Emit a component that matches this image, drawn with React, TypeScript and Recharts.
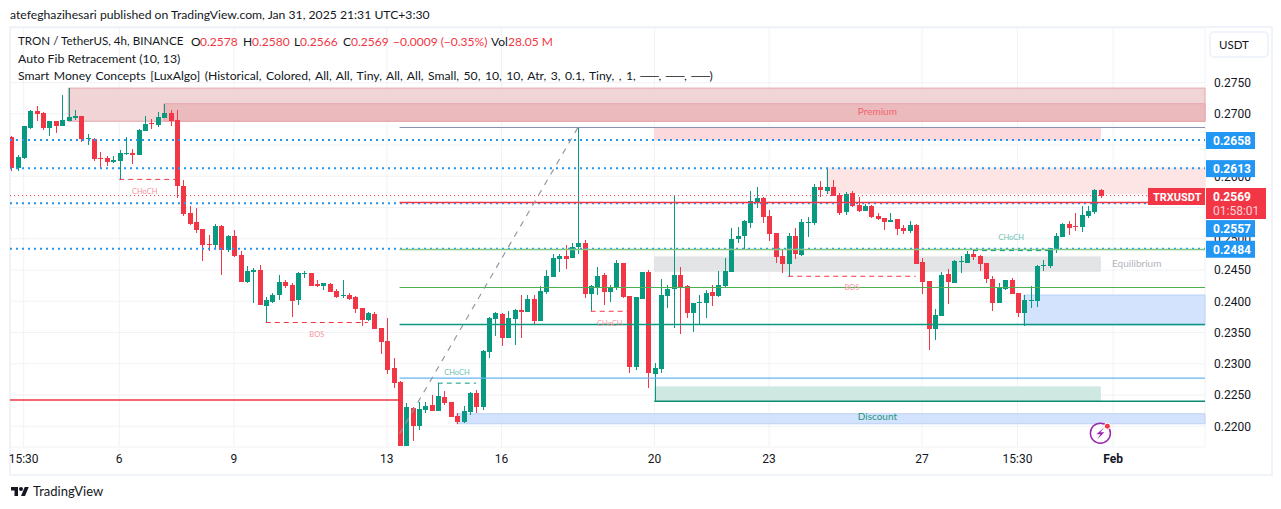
import React from 'react';
import { ComposedChart, Bar, XAxis, YAxis, CartesianGrid, ReferenceLine, ReferenceArea, ReferenceDot } from 'recharts';

const opens = [0.2663,0.2613,0.2629,0.2677,0.2704,0.2701,0.2677,0.2688,0.2680,0.2688,0.2693,0.2696,0.2660,0.2660,0.2629,0.2629,0.2623,0.2624,0.2636,0.2637,0.2634,0.2672,0.2685,0.2682,0.2693,0.2701,0.2690,0.2584,0.2541,0.2527,0.2516,0.2492,0.2490,0.2520,0.2482,0.2504,0.2474,0.2431,0.2447,0.2450,0.2392,0.2399,0.2410,0.2431,0.2426,0.2402,0.2444,0.2445,0.2428,0.2424,0.2428,0.2416,0.2408,0.2410,0.2407,0.2389,0.2370,0.2380,0.2357,0.2336,0.2293,0.2271,0.2168,0.2229,0.2200,0.2226,0.2234,0.2224,0.2247,0.2239,0.2216,0.2207,0.2223,0.2253,0.2231,0.2319,0.2372,0.2380,0.2341,0.2372,0.2386,0.2383,0.2404,0.2368,0.2415,0.2439,0.2468,0.2472,0.2469,0.2487,0.2493,0.2412,0.2421,0.2442,0.2415,0.2421,0.2461,0.2408,0.2295,0.2404,0.2447,0.2284,0.2292,0.2408,0.2420,0.2442,0.2424,0.2381,0.2397,0.2397,0.2415,0.2408,0.2424,0.2447,0.2500,0.2504,0.2525,0.2557,0.2565,0.2536,0.2509,0.2472,0.2460,0.2504,0.2474,0.2525,0.2525,0.2583,0.2576,0.2583,0.2570,0.2543,0.2573,0.2554,0.2544,0.2552,0.2536,0.2533,0.2527,0.2532,0.2517,0.2512,0.2522,0.2463,0.2432,0.2356,0.2376,0.2444,0.2429,0.2463,0.2461,0.2476,0.2472,0.2461,0.2436,0.2397,0.2420,0.2434,0.2413,0.2381,0.2400,0.2400,0.2456,0.2456,0.2484,0.2503,0.2524,0.2520,0.2519,0.2536,0.2543,0.2578];
const highs = [0.2664,0.2634,0.2680,0.2706,0.2712,0.2703,0.2688,0.2688,0.2730,0.2741,0.2706,0.2696,0.2668,0.2661,0.2639,0.2632,0.2632,0.2642,0.2663,0.2644,0.2676,0.2696,0.2692,0.2703,0.2716,0.2706,0.2706,0.2594,0.2552,0.2549,0.2516,0.2506,0.2524,0.2522,0.2506,0.2514,0.2480,0.2456,0.2453,0.2458,0.2407,0.2413,0.2442,0.2434,0.2429,0.2447,0.2448,0.2445,0.2434,0.2429,0.2429,0.2420,0.2434,0.2413,0.2408,0.2389,0.2383,0.2383,0.2357,0.2373,0.2309,0.2272,0.2237,0.2231,0.2239,0.2239,0.2250,0.2269,0.2256,0.2239,0.2221,0.2232,0.2255,0.2258,0.2322,0.2375,0.2383,0.2381,0.2384,0.2388,0.2410,0.2410,0.2410,0.2424,0.2450,0.2476,0.2476,0.2490,0.2493,0.2678,0.2498,0.2426,0.2455,0.2445,0.2426,0.2466,0.2461,0.2408,0.2407,0.2447,0.2450,0.2301,0.2436,0.2426,0.2568,0.2455,0.2426,0.2397,0.2410,0.2418,0.2426,0.2448,0.2469,0.2517,0.2519,0.2530,0.2576,0.2583,0.2567,0.2546,0.2509,0.2484,0.2509,0.2517,0.2532,0.2535,0.2588,0.2592,0.2613,0.2594,0.2573,0.2575,0.2576,0.2567,0.2556,0.2554,0.2541,0.2533,0.2541,0.2532,0.2522,0.2528,0.2524,0.2469,0.2432,0.2388,0.2447,0.2452,0.2466,0.2472,0.2480,0.2484,0.2474,0.2461,0.2440,0.2429,0.2434,0.2437,0.2413,0.2410,0.2424,0.2458,0.2466,0.2485,0.2509,0.2525,0.2528,0.2541,0.2552,0.2552,0.2580,0.2580];
const lows = [0.2608,0.2608,0.2628,0.2676,0.2688,0.2674,0.2664,0.2669,0.2680,0.2688,0.2690,0.2655,0.2650,0.2624,0.2612,0.2616,0.2621,0.2594,0.2634,0.2620,0.2634,0.2672,0.2676,0.2679,0.2693,0.2680,0.2565,0.2536,0.2522,0.2509,0.2464,0.2480,0.2485,0.2442,0.2479,0.2471,0.2431,0.2429,0.2397,0.2394,0.2365,0.2397,0.2402,0.2421,0.2375,0.2394,0.2437,0.2424,0.2423,0.2418,0.2415,0.2405,0.2405,0.2402,0.2381,0.2360,0.2368,0.2356,0.2316,0.2284,0.2261,0.2168,0.2168,0.2176,0.2194,0.2221,0.2224,0.2224,0.2234,0.2215,0.2204,0.2205,0.2218,0.2221,0.2226,0.2309,0.2344,0.2328,0.2341,0.2330,0.2341,0.2383,0.2362,0.2368,0.2412,0.2439,0.2447,0.2452,0.2469,0.2477,0.2405,0.2384,0.2410,0.2394,0.2399,0.2418,0.2405,0.2284,0.2290,0.2404,0.2261,0.2239,0.2285,0.2389,0.2356,0.2348,0.2373,0.2351,0.2362,0.2373,0.2392,0.2407,0.2423,0.2447,0.2493,0.2482,0.2517,0.2549,0.2525,0.2496,0.2461,0.2445,0.2439,0.2468,0.2472,0.2503,0.2522,0.2567,0.2572,0.2568,0.2538,0.2538,0.2551,0.2543,0.2544,0.2533,0.2530,0.2514,0.2527,0.2506,0.2508,0.2509,0.2460,0.2412,0.2322,0.2338,0.2376,0.2396,0.2429,0.2445,0.2461,0.2466,0.2448,0.2429,0.2384,0.2397,0.2418,0.2412,0.2375,0.2360,0.2389,0.2391,0.2448,0.2453,0.2477,0.2503,0.2506,0.2512,0.2511,0.2533,0.2540,0.2566];
const closes = [0.2613,0.2631,0.2680,0.2704,0.2700,0.2677,0.2688,0.2680,0.2690,0.2695,0.2696,0.2660,0.2661,0.2628,0.2628,0.2623,0.2626,0.2637,0.2637,0.2634,0.2674,0.2684,0.2684,0.2695,0.2701,0.2688,0.2584,0.2540,0.2524,0.2514,0.2490,0.2490,0.2520,0.2482,0.2504,0.2472,0.2431,0.2448,0.2450,0.2394,0.2402,0.2410,0.2431,0.2424,0.2400,0.2445,0.2445,0.2424,0.2424,0.2429,0.2415,0.2407,0.2410,0.2404,0.2388,0.2370,0.2381,0.2356,0.2335,0.2290,0.2269,0.2168,0.2231,0.2200,0.2228,0.2232,0.2224,0.2248,0.2237,0.2215,0.2207,0.2224,0.2253,0.2231,0.2320,0.2373,0.2381,0.2341,0.2373,0.2386,0.2383,0.2404,0.2368,0.2416,0.2440,0.2469,0.2472,0.2468,0.2487,0.2493,0.2412,0.2424,0.2440,0.2415,0.2423,0.2461,0.2407,0.2295,0.2407,0.2447,0.2285,0.2293,0.2410,0.2420,0.2442,0.2423,0.2381,0.2397,0.2399,0.2413,0.2408,0.2426,0.2448,0.2500,0.2504,0.2528,0.2560,0.2565,0.2535,0.2508,0.2471,0.2460,0.2504,0.2476,0.2527,0.2527,0.2583,0.2578,0.2583,0.2568,0.2541,0.2572,0.2552,0.2544,0.2552,0.2535,0.2532,0.2527,0.2530,0.2516,0.2512,0.2522,0.2460,0.2431,0.2356,0.2378,0.2442,0.2431,0.2464,0.2464,0.2476,0.2471,0.2460,0.2436,0.2397,0.2423,0.2434,0.2412,0.2381,0.2402,0.2402,0.2456,0.2458,0.2485,0.2504,0.2524,0.2517,0.2519,0.2538,0.2544,0.2578,0.2569];

const priceTicks = [0.22,0.225,0.23,0.235,0.24,0.245,0.25,0.255,0.26,0.265,0.27,0.275];
const timeTicks = [3,18,36,60,78,102,120,144,159,174];
const timeLabels = ['15:30','6','9','13','16','20','23','27','15:30','Feb'];

const candles = opens.map((open, k) => ({ i: k + 1, open, high: highs[k], low: lows[k], close: closes[k] }));

const UP = '#089981';
const DOWN = '#f23645';
const BLUE = '#2196f3';
const TEXT = '#131722';
const FONT = 'Lato, "Noto Sans", sans-serif';
const AXIS_FONT = 'Roboto, sans-serif';
const xMin = 0.854;
const xMax = 188.42;
const yMin = 0.21668;
const yMax = 0.28372;

const Candle = (props: any) => {
  const { x, y, width, height, payload } = props;
  const k = height / (payload.high - payload.low);
  const at = (p: number) => y + (payload.high - p) * k;
  const cx = Math.round(x + width / 2);
  const color = payload.close >= payload.open ? UP : DOWN;
  const top = Math.round(at(Math.max(payload.open, payload.close)));
  const bot = Math.round(at(Math.min(payload.open, payload.close)));
  const left = Math.max(cx - 2, 10);
  return (
    <g>
      <rect x={cx} y={Math.round(y)} width={1} height={Math.max(1, Math.round(height))} fill={color} />
      <rect x={left} y={top} width={cx + 3 - left} height={Math.max(1, bot - top)} fill={color} />
    </g>
  );
};

const XTick = (props: any) => {
  const k = timeTicks.indexOf(props.payload.value);
  const label = timeLabels[k];
  return (
    <text x={props.x} y={463} textAnchor="middle" fontFamily={AXIS_FONT} fontSize={12} fill={TEXT} fontWeight={label === 'Feb' ? 700 : 400}>
      {label}
    </text>
  );
};

const PriceTag = (text: string, dy: number) => (props: any) => (
  <g>
    <rect x={props.cx + 1} y={props.cy - 8 + dy} width={49} height={17} fill={BLUE} />
    <text x={props.cx + 8} y={props.cy + 5 + dy} fontFamily={AXIS_FONT} fontSize={12} fontWeight={700} fill="#fff">{text}</text>
  </g>
);

const LastTag = (props: any) => (
  <g>
    <rect x={props.cx - 57} y={188} width={57} height={17} fill={DOWN} />
    <text x={props.cx - 52} y={201} fontFamily={AXIS_FONT} fontSize={11} fontWeight={700} fill="#fff">TRXUSDT</text>
    <rect x={props.cx + 1} y={188} width={60} height={31} fill={DOWN} />
    <text x={props.cx + 8} y={201} fontFamily={AXIS_FONT} fontSize={12} fontWeight={700} fill="#fff">0.2569</text>
    <text x={props.cx + 8} y={215} fontFamily={AXIS_FONT} fontSize={12} fill="#ffd3d7">01:58:01</text>
  </g>
);

const Bolt = (props: any) => (
  <g>
    <circle cx={props.cx} cy={props.cy} r={10} fill="#fff" stroke="#9c27b0" strokeWidth={1.5} />
    <path d={`M${props.cx + 4} ${props.cy - 6} L${props.cx - 4} ${props.cy + 1} L${props.cx} ${props.cy + 1} L${props.cx - 3} ${props.cy + 6} L${props.cx + 4} ${props.cy - 1} L${props.cx} ${props.cy - 1} Z`} fill="#9c27b0" />
    <circle cx={props.cx + 7} cy={props.cy - 7} r={3} fill={DOWN} stroke="#fff" strokeWidth={1} />
  </g>
);

const note = (i: number, p: number, value: string, fill: string, fontSize = 7.5) => (
  <ReferenceDot key={value + i} x={i} y={p} r={0} fill="none" stroke="none" ifOverflow="visible"
    label={{ value, position: 'center', fill, fontSize, fontFamily: FONT }} />
);

const seg = (i1: number, i2: number, p1: number, p2: number, stroke: string, width: number, dash?: string) => (
  <ReferenceLine key={`${i1}-${i2}-${p1}-${p2}`} segment={[{ x: i1, y: p1 }, { x: i2, y: p2 }]} stroke={stroke} strokeWidth={width} strokeDasharray={dash} ifOverflow="visible" />
);

const zone = (i1: number, i2: number, p1: number, p2: number, fill: string, stroke: string) => (
  <ReferenceArea key={`${i1}-${p1}`} x1={i1} x2={i2} y1={p1} y2={p2} fill={fill} fillOpacity={1} stroke={stroke} strokeOpacity={1} strokeWidth={1} ifOverflow="visible" />
);

const legendPiece = (left: number, text: string, color: string, size = 12) => (
  <span style={{ position: 'absolute', left, top: 0, color, fontSize: size }}>{text}</span>
);

export default function App() {
  return (
    <div style={{ position: 'absolute', left: 0, top: 0, width: 1281, height: 509, background: '#fff', overflow: 'hidden' }}>
      <div style={{ position: 'absolute', left: 9, top: 26, width: 1260, height: 446, border: '2px solid #f0f3fa' }} />
      <div style={{ position: 'absolute', left: 10, top: 7, font: `12.2px ${FONT}`, color: TEXT, whiteSpace: 'nowrap' }}>
        atefeghazihesari published on TradingView.com, Jan 31, 2025 21:31 UTC+3:30
      </div>
      <div style={{ position: 'absolute', left: 0, top: 0 }}>
        <ComposedChart width={1281} height={509} data={candles} margin={{ left: 10, top: 28, right: 11, bottom: 36 }}>
          <CartesianGrid stroke="#f1f2f5" strokeWidth={1} />
          <XAxis dataKey="i" type="number" domain={[xMin, xMax]} allowDataOverflow ticks={timeTicks} interval={0} axisLine={false} tickLine={false} height={26} tick={<XTick />} />
          <YAxis orientation="right" type="number" domain={[yMin, yMax]} allowDataOverflow ticks={priceTicks} interval={0} width={65} axisLine={false} tickLine={false} tickMargin={3}
            tickFormatter={(v: number) => v.toFixed(4)} tick={{ fill: TEXT, fontSize: 12, fontFamily: AXIS_FONT }} />

          {zone(10, xMax, 0.2741, 0.2688, '#f0d4d6', '#e5a5aa')}
          {zone(25, xMax, 0.2716, 0.2688, '#ebbabd', '#e5a5aa')}
          {zone(102, 172, 0.2678, 0.2658, '#fbd9dc', '#fbd9dc')}
          {zone(129, xMax, 0.2613, 0.2572, '#fde4e5', '#fde4e5')}
          {zone(102, 172, 0.2471, 0.2448, '#e3e4e6', '#e3e4e6')}
          {zone(160, xMax, 0.2410, 0.2362, '#d3e3fd', '#bcd0f5')}
          {zone(102, 172, 0.2263, 0.2240, '#cfe9e2', '#cfe9e2')}
          {zone(71, xMax, 0.2220, 0.2204, '#d3e3fd', '#bcd0f5')}

          {seg(xMin, xMax, 0.2658, 0.2658, BLUE, 2, '2 4')}
          {seg(xMin, xMax, 0.2613, 0.2613, BLUE, 2, '2 4')}
          {seg(xMin, xMax, 0.2557, 0.2557, BLUE, 2, '2 4')}
          {seg(xMin, xMax, 0.2484, 0.2484, BLUE, 2, '2 4')}
          {seg(xMin, xMax, 0.2569, 0.2569, DOWN, 1, '1 3')}

          {seg(62, xMax, 0.2678, 0.2678, '#8a90ad', 1.2)}
          {seg(62, xMax, 0.2558, 0.2558, DOWN, 1.5)}
          {seg(62, xMax, 0.2483, 0.2483, '#81c784', 1.5)}
          {seg(62, xMax, 0.2422, 0.2422, '#4caf50', 1.2)}
          {seg(62, xMax, 0.2363, 0.2363, UP, 1.5)}
          {seg(62, xMax, 0.2277, 0.2277, '#64b5f6', 1.2)}
          {seg(102, xMax, 0.2240, 0.2240, '#0b8a75', 1.5)}
          {seg(xMin, 62, 0.2242, 0.2242, DOWN, 1.5)}

          {seg(62, 90, 0.2188, 0.2678, '#9598a1', 1.2, '6 6')}
          {seg(18, 27, 0.2595, 0.2595, DOWN, 1, '5 4')}
          {seg(41, 57, 0.2366, 0.2366, DOWN, 1, '5 4')}
          {seg(68, 74, 0.2269, 0.2269, UP, 1, '5 4')}
          {seg(92, 98, 0.2384, 0.2384, DOWN, 1, '5 4')}
          {seg(123, 143, 0.2440, 0.2440, DOWN, 1, '5 4')}
          {seg(152, 164, 0.2481, 0.2481, UP, 1, '5 4')}

          <Bar dataKey={(d: any) => [d.low, d.high]} barSize={5} shape={<Candle />} isAnimationActive={false} />

          {note(22, 0.2576, 'CHoCH', '#f8959d')}
          {note(49, 0.2347, 'BOS', '#f8959d')}
          {note(71, 0.2287, 'CHoCH', '#6bc2b3')}
          {note(95, 0.2365, 'CHoCH', '#f8959d')}
          {note(133, 0.2422, 'BOS', '#f8959d')}
          {note(158, 0.2502, 'CHoCH', '#6bc2b3')}
          {note(137, 0.2703, 'Premium', '#f2636f', 10)}
          {note(137, 0.2215, 'Discount', '#1f9583', 10)}
          {note(177.7, 0.2460, 'Equilibrium', '#b2b5be', 10)}

          <ReferenceDot x={172} y={0.2189} r={0} ifOverflow="visible" shape={<Bolt />} />
        </ComposedChart>
      </div>

      <div style={{ position: 'absolute', left: 0, top: 0 }}>
        <ComposedChart width={1281} height={509} data={candles} margin={{ left: 10, top: 28, right: 76, bottom: 62 }}>
          <XAxis dataKey="i" type="number" domain={[xMin, xMax]} allowDataOverflow hide />
          <YAxis orientation="right" type="number" domain={[yMin, yMax]} allowDataOverflow hide />
          <ReferenceDot x={xMax} y={0.2658} r={0} ifOverflow="visible" shape={PriceTag('0.2658', 0)} />
          <ReferenceDot x={xMax} y={0.2613} r={0} ifOverflow="visible" shape={PriceTag('0.2613', 0)} />
          <ReferenceDot x={xMax} y={0.2557} r={0} ifOverflow="visible" shape={PriceTag('0.2557', 25)} />
          <ReferenceDot x={xMax} y={0.2484} r={0} ifOverflow="visible" shape={PriceTag('0.2484', 0)} />
          <ReferenceDot x={xMax} y={0.2569} r={0} ifOverflow="visible" shape={<LastTag />} />
        </ComposedChart>
      </div>

      <div style={{ position: 'absolute', left: 0, top: 34, height: 16, width: 700, font: `12px ${FONT}`, color: TEXT, whiteSpace: 'nowrap' }}>
        {legendPiece(18, 'TRON / TetherUS, 4h, BINANCE', TEXT, 11.6)}
        {legendPiece(191, 'O', TEXT)}{legendPiece(200, '0.2578', DOWN)}
        {legendPiece(243, 'H', TEXT)}{legendPiece(252, '0.2580', DOWN)}
        {legendPiece(294, 'L', TEXT)}{legendPiece(300, '0.2566', DOWN)}
        {legendPiece(343, 'C', TEXT)}{legendPiece(351, '0.2569', DOWN)}
        {legendPiece(393, '−0.0009 (−0.35%)', DOWN)}
        {legendPiece(491, 'Vol', TEXT)}{legendPiece(508, '28.05 M', DOWN)}
      </div>
      <div style={{ position: 'absolute', left: 18, top: 51, font: `12.3px ${FONT}`, color: TEXT, whiteSpace: 'nowrap' }}>Auto Fib Retracement (10, 13)</div>
      <div style={{ position: 'absolute', left: 18, top: 68, font: `12.2px ${FONT}`, wordSpacing: 1.35, color: TEXT, whiteSpace: 'nowrap' }}>
        Smart Money Concepts [LuxAlgo] (Historical, Colored, All, All, Tiny, All, All, Small, 50, 10, 10, Atr, 3, 0.1, Tiny, , 1, ──, ──, ──)
      </div>
      <div style={{ position: 'absolute', left: 1209, top: 31, width: 56, height: 23, border: '2px solid #f0f3fa', borderRadius: 5, font: `11.5px ${FONT}`, color: TEXT, lineHeight: '23px', textIndent: 8 }}>USDT</div>
      <svg style={{ position: 'absolute', left: 10, top: 485 }} width={20} height={14} viewBox="0 0 36 28">
        <path d="M14 22H7V11H0V4h14v18zM28 22h-8l7.5-18h8L28 22z" fill={TEXT} />
        <circle cx="20" cy="8" r="4" fill={TEXT} />
      </svg>
      <div style={{ position: 'absolute', left: 33, top: 483, font: `13px ${FONT}`, color: TEXT }}>TradingView</div>
    </div>
  );
}
